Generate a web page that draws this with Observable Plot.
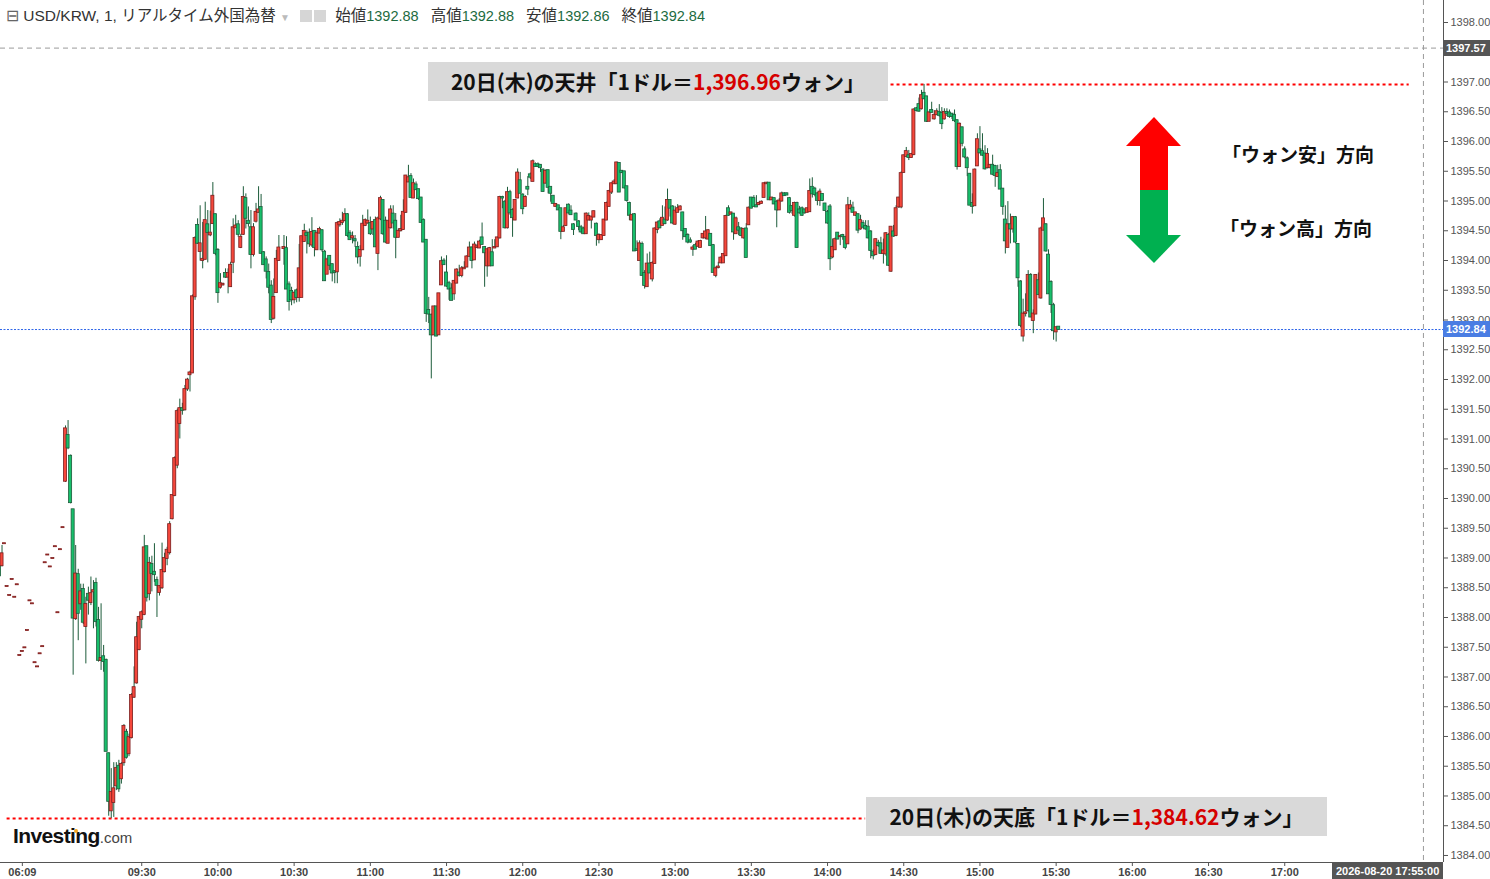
<!DOCTYPE html>
<html>
<head>
<meta charset="utf-8">
<script src="https://cdn.jsdelivr.net/npm/d3@7"></script>
<script src="https://cdn.jsdelivr.net/npm/@observablehq/plot@0.6"></script>
<style>
  body { margin: 0; background: #fff; }
  #wrap { position: relative; width: 1490px; height: 879px; overflow: hidden;
          font-family: "Liberation Sans", Arial, "Noto Sans CJK JP", sans-serif; }
  #wrap svg { position: absolute; left: 0; top: 0; }
  .ov { position: absolute; white-space: nowrap; }
  .hdr { left: 6px; top: 5px; font-size: 15.5px; color: #333; line-height: 22px; }
  .hdr .v { color: #1d6b3f; margin-right: 12px; font-size: 14.5px; }
  .hdr .ic { display: inline-block; width: 12px; height: 12px; background: #d6d6d6; margin: 0 1px; vertical-align: -1px; }
  .box { background: #d9d9d9; font-family: "Noto Sans CJK JP", sans-serif; font-weight: bold;
         font-size: 21px; color: #111; text-align: center; }
  .box .r { color: #d60000; }
  .dir { font-family: "Noto Sans CJK JP", sans-serif; font-weight: bold; font-size: 19px; color: #111; }
  .tag { color: #fff; font-weight: bold; font-size: 11px; line-height: 16px; padding: 0 3px; }
</style>
</head>
<body>
<div id="wrap"></div>
<script>
// one row per 1-minute bar: [open, high, low, close]
const preMarket = [
  [1388.99,1389.02,1388.67,1388.70],[1388.87,1389.21,1388.85,1389.07],
  [1389.24,1389.24,1389.24,1389.24],[1388.52,1388.52,1388.52,1388.52],[1388.37,1388.37,1388.37,1388.37],
  [1388.64,1388.64,1388.64,1388.64],[1388.34,1388.34,1388.34,1388.34],[1388.55,1388.55,1388.55,1388.55],
  [1387.36,1387.36,1387.36,1387.36],[1387.43,1387.43,1387.43,1387.43],[1387.49,1387.49,1387.49,1387.49],
  [1387.78,1387.78,1387.78,1387.78],[1388.28,1388.28,1388.28,1388.28],[1388.23,1388.23,1388.23,1388.23],
  [1387.24,1387.24,1387.24,1387.24],[1387.17,1387.17,1387.17,1387.17],[1387.39,1387.39,1387.39,1387.39],
  [1387.51,1387.51,1387.51,1387.51],[1388.92,1388.92,1388.92,1388.92],[1389.05,1389.05,1389.05,1389.05],
  [1388.85,1388.85,1388.85,1388.85],[1388.99,1388.99,1388.99,1388.99],[1389.19,1389.19,1389.19,1389.19],
  [1388.08,1388.08,1388.08,1388.08],[1389.14,1389.14,1389.14,1389.14],[1389.51,1389.51,1389.51,1389.51]
];
const preMarketLabel = {bar: 9, label: "06:09"};

const session0900 = [
  [1390.29,1391.22,1390.27,1391.17],[1391.06,1391.31,1390.82,1390.85],[1390.71,1390.73,1389.91,1389.93],
  [1389.81,1389.81,1387.03,1387.99],[1387.98,1389.21,1387.95,1388.73],[1388.72,1388.81,1387.61,1388.07],
  [1388.23,1388.56,1388.12,1388.43],[1388.47,1388.56,1387.88,1387.92],[1387.85,1388.34,1387.22,1388.22],
  [1388.39,1388.51,1388.04,1388.29],[1388.25,1388.68,1388.20,1388.40],[1388.43,1388.62,1387.81,1388.45],
  [1388.57,1388.66,1387.84,1387.93],[1387.95,1388.17,1387.25,1387.28],[1387.28,1388.23,1387.11,1387.31],
  [1387.34,1387.53,1387.08,1387.26],[1387.28,1387.30,1385.75,1385.75],[1385.71,1385.72,1384.66,1384.91],
  [1384.75,1385.46,1384.62,1385.06],[1384.89,1385.56,1384.64,1385.12],[1385.17,1385.56,1385.09,1385.46],
  [1385.50,1385.60,1385.06,1385.12],[1385.29,1385.56,1385.20,1385.53],[1385.56,1386.20,1385.50,1386.17],
  [1386.07,1386.12,1385.62,1385.65],[1385.71,1386.04,1385.66,1385.98],[1385.98,1386.72,1385.96,1386.69],
  [1386.66,1387.17,1386.64,1386.82],[1386.90,1387.92,1386.88,1387.66],[1387.46,1388.02,1387.44,1388.00],
  [1387.97,1388.11,1387.81,1388.08],[1388.05,1389.38,1388.03,1389.17],[1389.19,1389.19,1388.26,1388.34],
  [1388.40,1389.01,1388.28,1388.91],[1388.89,1389.03,1388.43,1388.74],[1388.76,1389.24,1388.59,1388.72],
  [1388.62,1388.68,1388.00,1388.54],[1388.42,1388.53,1388.36,1388.52],[1388.50,1389.25,1388.47,1388.79],
  [1388.77,1389.08,1388.75,1388.99],[1388.99,1389.18,1388.87,1389.13],[1389.09,1389.61,1389.05,1389.56],
  [1389.66,1390.05,1389.64,1390.05],[1390.05,1390.70,1390.03,1390.67],[1390.56,1391.50,1390.50,1391.46],
  [1391.26,1391.67,1391.00,1391.51],[1391.51,1391.60,1391.40,1391.48],[1391.49,1391.90,1391.47,1391.83],
  [1391.84,1392.02,1391.80,1391.99],[1392.08,1392.14,1391.79,1392.11],[1392.11,1393.42,1392.10,1393.39],
  [1393.39,1394.40,1393.33,1394.37],[1394.59,1394.70,1394.27,1394.29],[1394.15,1394.92,1393.99,1394.28],
  [1394.00,1394.64,1393.86,1394.02],[1394.02,1394.98,1394.01,1394.67],[1394.60,1394.84,1393.96,1394.47],
  [1394.43,1394.83,1394.40,1394.46],[1394.62,1395.31,1394.61,1395.08],[1394.77,1394.78,1394.08,1394.12],
  [1394.17,1394.20,1393.28,1393.46],[1393.55,1393.78,1393.52,1393.61],[1393.59,1393.62,1393.57,1393.60],
  [1393.78,1393.86,1393.70,1393.72],[1393.72,1393.86,1393.44,1393.78],[1393.56,1393.97,1393.55,1393.92],
  [1393.97,1394.70,1393.78,1394.55],[1394.55,1394.76,1394.54,1394.58],[1394.60,1394.67,1394.39,1394.44],
  [1394.22,1394.44,1394.20,1394.39],[1394.44,1395.24,1394.42,1395.06],[1395.04,1395.12,1394.53,1394.71],
  [1394.66,1394.90,1394.56,1394.62],[1394.55,1394.84,1393.86,1394.10],[1394.10,1394.62,1394.06,1394.55],
  [1394.66,1394.96,1394.63,1394.81],[1394.81,1395.24,1394.80,1394.85],[1394.89,1395.11,1394.11,1394.12],
  [1394.13,1394.15,1393.92,1393.93],[1394.01,1394.06,1393.69,1393.82],[1393.80,1393.94,1393.44,1393.55],
  [1393.57,1393.66,1392.94,1393.01],[1393.03,1393.69,1393.00,1393.38],[1393.46,1394.17,1393.45,1394.02],
  [1394.00,1394.42,1393.99,1394.21]
];

const session1026 = [
  [1394.20,1394.42,1393.92,1394.22],[1394.20,1394.40,1393.52,1393.52],[1393.59,1393.64,1393.15,1393.31],
  [1393.48,1393.55,1393.24,1393.34],[1393.34,1393.47,1393.27,1393.45],[1393.49,1393.52,1393.29,1393.38],
  [1393.38,1394.27,1393.30,1393.86],[1393.38,1394.40,1393.38,1394.40],[1394.32,1394.61,1394.31,1394.49],
  [1394.45,1394.50,1394.11,1394.42],[1394.46,1394.53,1394.22,1394.28],[1394.26,1394.72,1394.22,1394.47],
  [1394.49,1394.50,1394.06,1394.22],[1394.18,1394.50,1394.17,1394.45],[1394.46,1394.56,1394.45,1394.52],
  [1394.50,1394.52,1394.14,1394.18],[1394.14,1394.17,1393.65,1393.66],[1393.77,1394.04,1393.77,1394.01],
  [1394.07,1394.08,1393.83,1393.92],[1393.93,1393.94,1393.64,1393.79],[1393.81,1393.83,1393.61,1393.80],
  [1393.81,1394.65,1393.61,1394.62],[1394.60,1394.70,1394.56,1394.64],[1394.64,1394.81,1394.59,1394.66],
  [1394.67,1394.87,1394.65,1394.77],[1394.77,1394.79,1394.39,1394.42],[1394.45,1394.50,1394.34,1394.35],
  [1394.38,1394.48,1394.28,1394.40],[1394.35,1394.42,1394.22,1394.33],[1394.22,1394.31,1393.94,1394.06],
  [1394.07,1394.25,1393.89,1394.17],[1394.18,1394.76,1394.17,1394.61],[1394.59,1394.70,1394.57,1394.67],
  [1394.63,1394.85,1394.61,1394.66],[1394.62,1394.73,1394.42,1394.45],[1394.53,1394.65,1394.42,1394.64],
  [1394.67,1394.73,1394.22,1394.23],[1394.12,1394.73,1393.83,1394.70],[1394.70,1395.08,1394.67,1395.04],
  [1395.01,1395.01,1394.42,1394.45],[1394.66,1394.73,1394.29,1394.31],[1394.29,1394.67,1394.28,1394.66],
  [1394.55,1394.92,1394.53,1394.85],[1394.78,1394.92,1394.53,1394.63],[1394.66,1394.79,1394.03,1394.39],
  [1394.39,1394.53,1394.38,1394.49],[1394.50,1394.76,1394.48,1394.52],[1394.52,1395.02,1394.51,1394.81],
  [1394.81,1395.43,1394.79,1395.42],[1395.32,1395.60,1395.32,1395.39],[1395.41,1395.46,1395.06,1395.06],
  [1395.05,1395.37,1395.04,1395.29],[1395.27,1395.32,1395.18,1395.19],[1395.19,1395.20,1395.01,1395.04],
  [1395.05,1395.06,1394.63,1394.64],[1394.67,1394.70,1394.31,1394.31],[1394.34,1394.35,1392.96,1393.11],
  [1393.16,1393.38,1392.94,1393.10],[1393.08,1393.10,1392.01,1392.75],[1392.75,1393.22,1392.74,1393.22],
  [1393.22,1393.22,1392.72,1392.73],[1392.75,1393.44,1392.74,1393.44],[1393.59,1394.06,1393.59,1393.98],
  [1393.99,1394.03,1393.92,1393.93]
];

const session1130 = [
  [1393.79,1394.08,1393.55,1393.57],[1393.61,1393.65,1393.33,1393.52],[1393.52,1393.61,1393.33,1393.33],
  [1393.44,1393.66,1393.33,1393.65],[1393.62,1393.86,1393.61,1393.84],[1393.79,1393.92,1393.72,1393.75],
  [1393.75,1393.90,1393.71,1393.86],[1393.86,1393.98,1393.86,1393.87],[1393.89,1394.08,1393.88,1394.06],
  [1394.07,1394.31,1394.06,1394.21],[1394.21,1394.23,1393.86,1394.00],[1394.01,1394.31,1394.00,1394.26],
  [1394.22,1394.27,1394.20,1394.23],[1394.21,1394.34,1394.20,1394.31],[1394.38,1394.63,1394.27,1394.27],
  [1394.22,1394.23,1393.55,1394.13],[1393.91,1394.20,1393.72,1394.18],[1393.91,1394.22,1393.91,1394.20],
  [1394.13,1394.35,1393.90,1393.91],[1394.21,1394.35,1394.20,1394.22],[1394.23,1394.39,1394.22,1394.38],
  [1394.38,1395.08,1394.36,1395.06],[1395.06,1395.08,1394.87,1395.05],[1394.98,1395.01,1394.53,1394.55],
  [1394.55,1395.23,1394.53,1395.14],[1395.14,1395.18,1394.76,1394.80],[1394.84,1394.87,1394.39,1394.72],
  [1394.68,1395.02,1394.67,1395.01],[1395.05,1395.54,1395.04,1395.47],[1395.34,1395.48,1395.12,1395.13],
  [1395.10,1395.12,1394.77,1394.87],[1394.91,1395.09,1394.90,1395.06],[1395.23,1395.41,1395.09,1395.20],
  [1395.44,1395.47,1395.36,1395.40],[1395.33,1395.69,1395.33,1395.66],[1395.61,1395.64,1395.57,1395.58],
  [1395.61,1395.64,1395.56,1395.58],[1395.60,1395.61,1395.48,1395.56],[1395.52,1395.54,1395.15,1395.16],
  [1395.30,1395.52,1395.29,1395.50],[1395.51,1395.52,1395.12,1395.23],[1395.23,1395.23,1394.98,1395.13],
  [1395.08,1395.09,1394.95,1394.96],[1394.91,1394.96,1394.90,1394.94],[1394.92,1394.92,1394.85,1394.85],
  [1394.87,1394.87,1394.35,1394.49],[1394.49,1394.59,1394.49,1394.55],[1394.59,1394.87,1394.57,1394.87],
  [1394.93,1394.95,1394.78,1394.80],[1394.83,1394.92,1394.76,1394.77],[1394.60,1394.62,1394.42,1394.52],
  [1394.78,1394.80,1394.67,1394.68],[1394.65,1394.67,1394.50,1394.57],[1394.55,1394.59,1394.45,1394.48],
  [1394.53,1394.56,1394.44,1394.45],[1394.45,1394.80,1394.44,1394.78],[1394.68,1394.80,1394.67,1394.74],
  [1394.68,1394.73,1394.53,1394.73],[1394.73,1394.83,1394.72,1394.82],[1394.61,1394.63,1394.24,1394.42],
  [1394.35,1394.45,1394.28,1394.42],[1394.35,1394.43,1394.34,1394.42],[1394.42,1394.69,1394.41,1394.68],
  [1394.68,1394.98,1394.67,1394.96],[1394.91,1395.18,1394.90,1395.16]
];

const session1235 = [
  [1395.15,1395.30,1395.11,1395.29],[1395.29,1395.36,1395.29,1395.32],[1395.29,1395.65,1395.29,1395.64],
  [1395.63,1395.64,1395.15,1395.15],[1395.50,1395.51,1395.46,1395.48],[1395.49,1395.50,1395.20,1395.22],
  [1395.24,1395.24,1394.98,1395.01],[1394.96,1394.98,1394.67,1394.76],[1394.68,1394.77,1394.67,1394.76],
  [1394.77,1394.79,1394.16,1394.16],[1394.18,1394.33,1394.16,1394.17],[1394.00,1394.33,1394.00,1394.28],
  [1394.27,1394.31,1393.75,1393.75],[1393.78,1393.83,1393.52,1393.58],[1393.56,1394.11,1393.55,1393.94],
  [1393.94,1394.14,1393.78,1393.79],[1393.69,1393.98,1393.64,1393.95],[1393.95,1394.55,1393.94,1394.53],
  [1394.52,1394.65,1394.45,1394.63],[1394.65,1394.70,1394.53,1394.55],[1394.59,1394.92,1394.59,1394.71],
  [1394.68,1394.90,1394.60,1394.62],[1394.68,1395.20,1394.66,1395.01],[1395.01,1395.02,1394.73,1394.88],
  [1394.90,1394.92,1394.61,1394.63],[1394.61,1394.91,1394.59,1394.83],[1394.81,1394.94,1394.81,1394.87],
  [1394.85,1394.92,1394.84,1394.90],[1394.80,1394.81,1394.34,1394.50],[1394.52,1394.53,1394.39,1394.40],
  [1394.42,1394.45,1394.28,1394.31],[1394.33,1394.38,1394.29,1394.31],[1394.19,1394.25,1394.07,1394.21],
  [1394.25,1394.29,1394.19,1394.19],[1394.24,1394.33,1394.22,1394.31],[1394.22,1394.34,1394.22,1394.32],
  [1394.38,1394.45,1394.36,1394.44],[1394.38,1394.74,1394.35,1394.48],[1394.36,1394.52,1394.35,1394.50],
  [1394.44,1394.45,1394.24,1394.25],[1394.25,1394.27,1393.80,1393.80],[1393.75,1393.89,1393.71,1393.86],
  [1393.88,1393.97,1393.86,1393.89],[1393.96,1394.06,1393.96,1394.04],[1393.96,1394.11,1393.96,1394.10],
  [1394.08,1394.76,1394.07,1394.74],[1394.87,1394.92,1394.74,1394.76],[1394.78,1394.81,1394.76,1394.80],
  [1394.78,1394.79,1394.34,1394.48],[1394.45,1394.73,1394.44,1394.70],[1394.55,1394.64,1394.42,1394.51],
  [1394.53,1394.55,1394.40,1394.42],[1394.38,1394.52,1394.36,1394.52],[1394.53,1394.62,1394.05,1394.05],
  [1394.60,1394.90,1394.59,1394.88],[1395.05,1395.06,1394.87,1394.88],[1395.04,1395.09,1394.90,1394.91],
  [1394.92,1395.09,1394.90,1394.90],[1394.94,1394.98,1394.92,1394.96],[1394.96,1395.00,1394.95,1394.98],
  [1395.06,1395.30,1395.06,1395.29],[1395.29,1395.31,1395.28,1395.30],[1395.30,1395.31,1395.01,1395.02],
  [1395.02,1395.06,1395.01,1395.05],[1395.04,1395.05,1394.94,1394.95],[1394.98,1395.01,1394.55,1394.85],
  [1394.85,1395.04,1394.84,1395.00],[1395.00,1395.15,1394.98,1395.12],[1395.12,1395.14,1395.08,1395.09],
  [1395.12,1395.14,1395.09,1395.10]
];

const session1345 = [
  [1395.04,1395.06,1394.78,1394.81],[1394.91,1394.92,1394.78,1394.84],[1394.76,1394.98,1394.73,1394.96],
  [1394.96,1394.98,1394.21,1394.22],[1394.85,1394.91,1394.78,1394.80],[1394.87,1394.90,1394.74,1394.76],
  [1394.85,1394.86,1394.78,1394.80],[1394.81,1394.87,1394.80,1394.87],[1394.82,1395.37,1394.81,1395.16],
  [1395.23,1395.39,1395.05,1395.12],[1395.20,1395.23,1395.07,1395.11],[1395.12,1395.14,1394.92,1395.01],
  [1395.01,1395.20,1394.91,1395.15],[1395.11,1395.12,1394.99,1395.01],[1394.95,1394.96,1394.83,1394.84],
  [1394.81,1394.84,1394.61,1394.63],[1394.90,1394.94,1393.83,1394.03],[1394.06,1394.36,1394.03,1394.22],
  [1394.18,1394.38,1394.17,1394.35],[1394.46,1394.47,1394.35,1394.36],[1394.40,1394.42,1394.25,1394.40],
  [1394.42,1394.44,1394.34,1394.40],[1394.39,1394.40,1394.18,1394.22],[1394.28,1395.06,1394.27,1394.92],
  [1394.87,1395.01,1394.85,1394.92],[1394.88,1394.98,1394.80,1394.81],[1394.76,1394.81,1394.74,1394.80],
  [1394.77,1394.78,1394.45,1394.51],[1394.53,1394.76,1394.51,1394.67],[1394.62,1394.67,1394.53,1394.56],
  [1394.57,1394.67,1394.51,1394.53],[1394.56,1394.67,1394.36,1394.38],[1394.48,1394.50,1394.03,1394.17],
  [1394.14,1394.18,1394.01,1394.08],[1394.10,1394.36,1394.08,1394.35],[1394.29,1394.34,1394.22,1394.25],
  [1394.28,1394.39,1394.11,1394.12],[1394.12,1394.36,1393.94,1394.16],[1394.11,1394.47,1394.07,1394.45],
  [1394.42,1394.45,1393.90,1393.92],[1393.82,1394.56,1393.80,1394.56],[1394.48,1394.59,1394.39,1394.41],
  [1394.42,1394.92,1394.40,1394.87],[1394.90,1395.06,1394.88,1395.05],[1394.90,1395.49,1394.87,1395.46],
  [1395.48,1395.77,1395.47,1395.76],[1395.75,1395.90,1395.74,1395.83],[1395.76,1395.85,1395.68,1395.73],
  [1395.73,1395.80,1395.72,1395.78],[1395.78,1396.55,1395.76,1396.53],[1396.55,1396.57,1396.50,1396.52],
  [1396.62,1396.73,1396.49,1396.51],[1396.55,1396.86,1396.53,1396.77],[1396.81,1396.96,1396.70,1396.72],
  [1396.75,1396.76,1396.32,1396.34],[1396.34,1396.51,1396.33,1396.48],[1396.52,1396.66,1396.48,1396.49],
  [1396.38,1396.52,1396.36,1396.44],[1396.45,1396.55,1396.44,1396.50],[1396.49,1396.62,1396.41,1396.44],
  [1396.47,1396.57,1396.20,1396.30],[1396.38,1396.55,1396.36,1396.49],[1396.49,1396.55,1396.42,1396.47],
  [1396.48,1396.53,1396.39,1396.42],[1396.46,1396.47,1396.37,1396.42]
];

const session1450 = [
  [1396.44,1396.53,1396.32,1396.35],[1396.35,1396.36,1395.52,1395.58],[1395.58,1396.31,1395.57,1396.29],
  [1396.23,1396.24,1395.91,1395.97],[1395.86,1395.91,1395.71,1395.74],[1395.71,1395.74,1395.41,1395.56],
  [1395.45,1395.46,1394.93,1394.93],[1394.96,1395.12,1394.78,1394.91],[1394.92,1395.54,1394.92,1395.52],
  [1395.59,1396.13,1395.58,1396.03],[1395.86,1396.25,1395.79,1395.81],[1395.83,1396.13,1395.75,1395.77],
  [1395.79,1395.93,1395.52,1395.54],[1395.56,1395.88,1395.54,1395.78],[1395.56,1395.61,1395.54,1395.60],
  [1395.60,1395.77,1395.43,1395.45],[1395.58,1395.60,1395.23,1395.43],[1395.41,1395.60,1395.40,1395.46],
  [1395.51,1395.61,1395.20,1395.20],[1395.20,1395.21,1394.76,1394.91],[1394.68,1394.92,1394.11,1394.33],
  [1394.22,1394.99,1394.22,1394.60],[1394.60,1394.78,1394.28,1394.53],[1394.53,1394.74,1394.46,1394.72],
  [1394.72,1394.74,1394.28,1394.31],[1394.27,1394.28,1393.55,1393.71],[1393.64,1393.66,1392.87,1392.91],
  [1392.73,1393.35,1392.63,1393.10],[1393.11,1393.44,1393.05,1393.12],[1393.16,1393.83,1393.12,1393.75],
  [1393.75,1393.78,1393.04,1393.05],[1392.99,1393.17,1392.77,1393.10],[1393.10,1393.76,1393.09,1393.75],
  [1393.66,1393.79,1393.41,1393.43],[1393.37,1394.56,1393.35,1394.53],[1394.51,1395.04,1394.50,1394.70],
  [1394.60,1394.62,1394.14,1394.16],[1394.09,1394.18,1393.43,1393.44],[1393.63,1393.66,1393.11,1393.26],
  [1393.24,1393.28,1392.66,1392.82],[1392.80,1392.88,1392.63,1392.87],[1392.88,1392.88,1392.86,1392.84]
];

const sessions = [
  ["09:00", session0900], ["10:26", session1026], ["11:30", session1130],
  ["12:35", session1235], ["13:45", session1345], ["14:50", session1450]
];

const timeTicks = ["09:30","10:00","10:30","11:00","11:30","12:00","12:30","13:00",
                   "13:30","14:00","14:30","15:00","15:30","16:00","16:30","17:00"];

const dayHigh = 1396.96, dayLow = 1384.62;
const lastPrice = 1392.84, cursorPrice = 1397.57;
const cursorStamp = "2026-08-20 17:55:00";

// bar slots: one per minute from 09:00, pre-market bars packed just before
const toSlot = t => { const [h, m] = t.split(":").map(Number); return h * 60 + m - 540; };
const preStart = -preMarket.length;
const row = (r, slot) => ({slot, open: r[0], high: r[1], low: r[2], close: r[3]});
const bars = [
  ...preMarket.map((r, i) => row(r, preStart + i)),
  ...sessions.flatMap(([t, rows]) => rows.map((r, i) => row(r, toSlot(t) + i)))
];

const tickSlots = [preStart + preMarketLabel.bar, ...timeTicks.map(toSlot)];
const tickText = new Map([[tickSlots[0], preMarketLabel.label], ...timeTicks.map(t => [toSlot(t), t])]);

// price ticks every 0.50; the one under the cursor tag is hidden, as on the original
const priceTicks = d3.range(1384, 1398.001, 0.5).filter(v => Math.abs(v - cursorPrice) > 0.2);

const xDomain = [-25.6, 542.5];
const yDomain = [1383.882, 1398.37];
const up = d => d.close >= d.open;
const cursorSlot = 534.6;

const chart = Plot.plot({
  width: 1490,
  height: 879,
  marginLeft: 0,
  marginRight: 47,
  marginTop: 0,
  marginBottom: 17,
  style: {background: "#fff", fontFamily: "Liberation Sans, Arial, sans-serif", fontSize: "11px"},
  x: {domain: xDomain, axis: null},
  y: {domain: yDomain, axis: null},
  marks: [
    Plot.ruleY([cursorPrice], {stroke: "#9a9a9a", strokeDasharray: "5,4"}),
    Plot.ruleX([cursorSlot], {stroke: "#9a9a9a", strokeDasharray: "5,4"}),
    Plot.ruleY([lastPrice], {stroke: "#2f66e8", strokeDasharray: "2,1.5"}),
    Plot.ruleY([dayHigh], {x1: 325, x2: 529, stroke: "#ff0000", strokeWidth: 2, strokeDasharray: "3,3"}),
    Plot.ruleY([dayLow], {x1: -23, x2: 315, stroke: "#ff0000", strokeWidth: 2, strokeDasharray: "3,3"}),
    Plot.ruleX(bars, {x: "slot", y1: "low", y2: "high", stroke: "#1d5c3b", strokeWidth: 1, clip: true}),
    Plot.rect(bars, {
      x1: d => d.slot - 0.6, x2: d => d.slot + 0.6, y1: "open", y2: "close",
      insetTop: -0.5, insetBottom: -0.5,
      fill: d => up(d) ? "#f5473b" : "#17bf6b",
      stroke: d => up(d) ? "#7b1e1e" : "#1d5c3b",
      strokeWidth: 0.8, clip: true
    }),
    Plot.ruleX([xDomain[1]], {stroke: "#555"}),
    Plot.ruleY([yDomain[0]], {stroke: "#555"}),
    Plot.axisY({
      anchor: "right", ticks: priceTicks, tickFormat: d => d.toFixed(2),
      tickSize: 4, tickPadding: 3, fill: "#555", stroke: "#555", label: null
    }),
    Plot.axisX({
      anchor: "bottom", ticks: tickSlots, tickFormat: s => tickText.get(s),
      tickSize: 4, tickPadding: 2, fill: "#444", stroke: "#555", fontWeight: "bold", label: null
    })
  ]
});

const wrap = document.getElementById("wrap");
wrap.appendChild(chart);
const y = v => chart.scale("y").apply(v);

function overlay(html, css) {
  const el = document.createElement("div");
  el.className = "ov " + (css.cls || "");
  el.innerHTML = html;
  Object.assign(el.style, css.style || {});
  wrap.appendChild(el);
  return el;
}

// header line
overlay(
  '<span style="color:#666">⊟</span> USD/KRW, 1, リアルタイム外国為替 <span style="color:#bbb;font-size:10px">▼</span> &nbsp;' +
  '<span class="ic"></span><span class="ic"></span> &nbsp;' +
  '始値<span class="v">1392.88</span>高値<span class="v">1392.88</span>安値<span class="v">1392.86</span>終値<span class="v">1392.84</span>',
  {cls: "hdr"}
);

// annotation boxes
overlay('20日(木)の天井「1ドル＝<span class="r">1,396.96</span>ウォン」',
  {cls: "box", style: {left: "428px", top: (y(dayHigh) - 22) + "px", width: "460px", height: "39px", lineHeight: "39px"}});
overlay('20日(木)の天底「1ドル＝<span class="r">1,384.62</span>ウォン」',
  {cls: "box", style: {left: "866px", top: (y(dayLow) - 21) + "px", width: "461px", height: "39px", lineHeight: "39px"}});

// direction arrows
overlay(
  '<svg width="60" height="150" viewBox="0 0 60 150">' +
  '<polygon points="28,0 0,29 55,29" fill="#ff0000"/><rect x="14" y="28" width="28" height="46" fill="#ff0000"/>' +
  '<rect x="14" y="73" width="28" height="46" fill="#00b050"/><polygon points="0,118 55,118 28,146" fill="#00b050"/>' +
  '</svg>',
  {style: {left: "1126px", top: "117px"}}
);
overlay("「ウォン安」方向", {cls: "dir", style: {left: "1222px", top: "140px"}});
overlay("「ウォン高」方向", {cls: "dir", style: {left: "1220px", top: "214px"}});

// price tags on the right axis
overlay(cursorPrice.toFixed(2), {cls: "tag", style: {left: "1443px", top: (y(cursorPrice) - 8) + "px", background: "#555", width: "41px"}});
overlay(lastPrice.toFixed(2), {cls: "tag", style: {left: "1443px", top: (y(lastPrice) - 8) + "px", background: "#4a7de3", width: "41px"}});
overlay(cursorStamp, {cls: "tag", style: {left: "1332px", top: "863px", background: "#555", lineHeight: "16px", padding: "0 4px"}});

// logo
overlay('<span style="font-weight:bold;font-size:21px;color:#111;letter-spacing:-0.6px">Investing</span>' +
  '<span style="font-size:15px;color:#444">.com</span>',
  {style: {left: "13px", top: "824px"}});
overlay('', {style: {left: "74px", top: "829px", width: "4px", height: "4px", borderRadius: "2px", background: "#f5a623"}});
</script>
</body>
</html>
